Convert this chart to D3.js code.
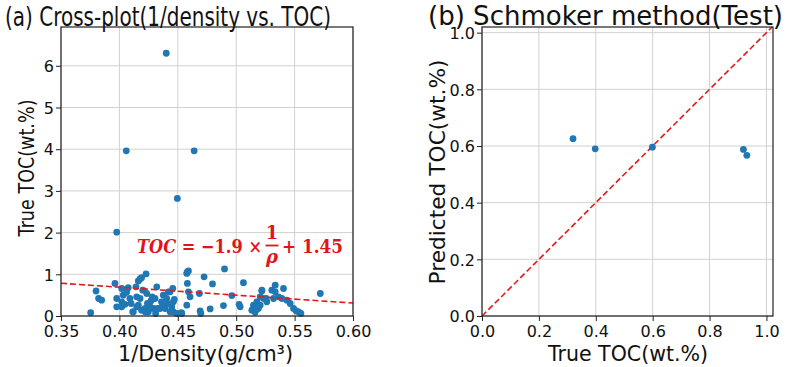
<!DOCTYPE html>
<html>
<head>
<meta charset="utf-8">
<script src="https://cdn.jsdelivr.net/npm/d3@7"></script>
<style>
  body { margin: 0; background: #fff; }
  text { font-family: "DejaVu Sans", sans-serif; fill: #111; }
  .grid line { stroke: #d0d0d0; stroke-width: 1; }
  .tick line { stroke: #222; }
</style>
</head>
<body>
<svg id="chart" width="800" height="367"></svg>
<script>
// (a) cross-plot: 1/density vs true TOC
const invDensity = [
  0.4401, 0.4059, 0.4640, 0.4496, 0.3977, 0.4228, 0.4580, 0.4591, 0.4900, 0.4725,
  0.4797, 0.5062, 0.5720, 0.3754, 0.3800, 0.3822, 0.3848, 0.3962, 0.3977, 0.3977,
  0.4020, 0.4033, 0.4020, 0.4020, 0.4062, 0.4076, 0.4090, 0.4048, 0.4119, 0.4142,
  0.4162, 0.4177, 0.4190, 0.4148, 0.4177, 0.4162, 0.4190, 0.4234, 0.4240, 0.4220,
  0.4248, 0.4270, 0.4290, 0.4320, 0.4305, 0.4348, 0.4370, 0.4405, 0.4420, 0.4376,
  0.4434, 0.4457, 0.4462, 0.4448, 0.4462, 0.4391, 0.4410, 0.4534, 0.4577, 0.4577,
  0.4582, 0.4591, 0.4605, 0.4685, 0.4691, 0.4697, 0.4777, 0.4891, 0.4963, 0.5025,
  0.5034, 0.5134, 0.5148, 0.5177, 0.5162, 0.5205, 0.5220, 0.5190, 0.5257, 0.5220,
  0.5234, 0.5205, 0.5262, 0.5305, 0.5334, 0.5334, 0.5320, 0.5362, 0.5405, 0.5391,
  0.5434, 0.5462, 0.5491, 0.5514, 0.5534, 0.5554, 0.4114, 0.4148, 0.4220, 0.4263,
  0.4325, 0.4434, 0.4491, 0.4530, 0.4280, 0.4360, 0.4200, 0.4310, 0.4470, 0.4100
];
const trueToc = [
  6.30, 3.96, 3.96, 2.82, 2.01, 1.01, 1.05, 1.08, 1.13, 0.94,
  0.77, 0.80, 0.54, 0.08, 0.60, 0.42, 0.38, 0.78, 0.42, 0.22,
  0.66, 0.50, 0.34, 0.22, 0.57, 0.68, 0.42, 0.28, 0.10, 0.70,
  0.84, 0.89, 0.92, 0.46, 0.42, 0.26, 0.14, 0.54, 0.30, 0.18,
  0.10, 0.36, 0.18, 0.70, 0.42, 0.18, 0.26, 0.42, 0.58, 0.50,
  0.58, 0.66, 0.34, 0.22, 0.10, 0.18, 0.30, 0.06, 0.26, 1.02,
  0.78, 0.58, 0.46, 0.54, 0.12, 0.06, 0.17, 0.25, 0.49, 0.28,
  0.22, 0.14, 0.26, 0.34, 0.09, 0.46, 0.62, 0.18, 0.42, 0.60,
  0.42, 0.26, 0.34, 0.62, 0.74, 0.58, 0.42, 0.46, 0.66, 0.42,
  0.38, 0.30, 0.18, 0.12, 0.10, 0.06, 0.10, 0.22, 0.10, 0.22,
  0.18, 0.10, 0.06, 0.08, 0.46, 0.34, 0.62, 0.06, 0.40, 0.30
];
const fitSlope = -1.9, fitIntercept = 1.45;
const xTicksA = [0.35, 0.40, 0.45, 0.50, 0.55, 0.60];
const yTicksA = [0, 1, 2, 3, 4, 5, 6];

// (b) Schmoker method, test set
const trueTocTest = [0.32, 0.398, 0.599, 0.919, 0.931];
const predTocTest = [0.626, 0.590, 0.596, 0.588, 0.567];
const ticksB = [0.0, 0.2, 0.4, 0.6, 0.8, 1.0];

const svg = d3.select("#chart");
const dotColor = "#1f77b4";
const eqColor = "#e0141b";
const plotTop = 27, plotBottom = 316;

// squeeze a text to a given width (the original glyphs are narrow)
var fit = function(sel, len) {
	return sel.attr("textLength", len).attr("lengthAdjust", "spacingAndGlyphs");
}

function drawFrame(g, x, y, xTicks, yTicks, xFmt, yFmt) {
	// grid
	g.append("g").attr("class", "grid")
		.selectAll("line.v").data(xTicks).enter().append("line")
		.attr("x1", d => x(d)).attr("x2", d => x(d))
		.attr("y1", y.range()[0]).attr("y2", y.range()[1]);
	g.append("g").attr("class", "grid")
		.selectAll("line.h").data(yTicks).enter().append("line")
		.attr("x1", x.range()[0]).attr("x2", x.range()[1])
		.attr("y1", d => y(d)).attr("y2", d => y(d));

	const xa = g.append("g")
		.attr("transform", "translate(0," + y.range()[0] + ")")
		.call(d3.axisBottom(x).tickValues(xTicks).tickFormat(xFmt).tickSize(5).tickSizeOuter(0));
	const ya = g.append("g")
		.attr("transform", "translate(" + x.range()[0] + ",0)")
		.call(d3.axisLeft(y).tickValues(yTicks).tickFormat(yFmt).tickSize(5).tickSizeOuter(0));
	xa.select(".domain").remove();
	ya.select(".domain").remove();
	xa.selectAll("text").style("font-size", "16px").attr("dy", null).attr("y", 21).attr("fill", "#111");
	ya.selectAll("text").style("font-size", "16px").attr("x", -7).attr("dy", "0.36em").attr("fill", "#111");
}

function drawBox(g, x, y) {
	g.append("rect")
		.attr("x", x.range()[0]).attr("y", y.range()[1])
		.attr("width", x.range()[1] - x.range()[0])
		.attr("height", y.range()[0] - y.range()[1])
		.attr("fill", "none").attr("stroke", "#222").attr("stroke-width", 1.2);
}

// ---------- panel (a)
const xa = d3.scaleLinear().domain([0.35, 0.60]).range([61, 353]);
const ya = d3.scaleLinear().domain([0, 6.93]).range([plotBottom, plotTop]);
const gA = svg.append("g");
drawFrame(gA, xa, ya, xTicksA, yTicksA, d3.format(".2f"), d3.format("d"));

const ptsA = invDensity.map((v, i) => ({x: v, y: trueToc[i]}));
gA.append("g").selectAll("circle").data(ptsA).enter().append("circle")
	.attr("cx", d => xa(d.x)).attr("cy", d => ya(d.y))
	.attr("r", 3.4).attr("fill", dotColor);

gA.append("line")
	.attr("x1", xa(0.35)).attr("y1", ya(fitSlope * 0.35 + fitIntercept))
	.attr("x2", xa(0.60)).attr("y2", ya(fitSlope * 0.60 + fitIntercept))
	.attr("stroke", "#e41a1c").attr("stroke-width", 1.6).attr("stroke-dasharray", "6,3");
drawBox(gA, xa, ya);

// equation
const eq = gA.append("g");
const eqFont = "'DejaVu Serif', serif";
fit(eq.append("text").attr("x", 137).attr("y", 253)
	.style("font-family", eqFont).style("font-size", "19px").style("font-weight", "bold")
	.style("fill", eqColor)
	.html('<tspan font-style="italic">TOC</tspan> = \u22121.9 \u00d7'), 125);
eq.append("text").attr("x", 272).attr("y", 239).attr("text-anchor", "middle")
	.style("font-family", eqFont).style("font-size", "18px").style("font-weight", "bold")
	.style("fill", eqColor).text("1");
eq.append("line").attr("x1", 265.5).attr("x2", 278.5).attr("y1", 245.5).attr("y2", 245.5)
	.attr("stroke", eqColor).attr("stroke-width", 1.8);
eq.append("text").attr("x", 272).attr("y", 263).attr("text-anchor", "middle")
	.style("font-family", eqFont).style("font-size", "18px").style("font-weight", "bold")
	.style("font-style", "italic").style("fill", eqColor).text("\u03c1");
fit(eq.append("text").attr("x", 282).attr("y", 253)
	.style("font-family", eqFont).style("font-size", "19px").style("font-weight", "bold")
	.style("fill", eqColor).text("+ 1.45"), 61);

fit(svg.append("text").attr("x", 5).attr("y", 26).style("font-size", "26px")
	.text("(a) Cross-plot(1/density vs. TOC)"), 326);
fit(svg.append("text").attr("x", 118).attr("y", 361).style("font-size", "21px")
	.html('1/Density(g/cm<tspan>\u00b3</tspan>)'), 175);
fit(svg.append("text").attr("transform", "translate(34,168) rotate(-90)").attr("text-anchor", "middle")
	.style("font-size", "21px").text("True TOC(wt.%)"), 137);

// ---------- panel (b)
const xb = d3.scaleLinear().domain([0, 1.023]).range([482, 773]);
const yb = d3.scaleLinear().domain([0, 1.02]).range([plotBottom, plotTop]);
const gB = svg.append("g");
drawFrame(gB, xb, yb, ticksB, ticksB, d3.format(".1f"), d3.format(".1f"));

gB.append("line")
	.attr("x1", xb(0)).attr("y1", yb(0))
	.attr("x2", xb(1.02)).attr("y2", yb(1.02))
	.attr("stroke", "#e41a1c").attr("stroke-width", 1.6).attr("stroke-dasharray", "6,3");

const ptsB = trueTocTest.map((v, i) => ({x: v, y: predTocTest[i]}));
gB.append("g").selectAll("circle").data(ptsB).enter().append("circle")
	.attr("cx", d => xb(d.x)).attr("cy", d => yb(d.y))
	.attr("r", 3.4).attr("fill", dotColor);
drawBox(gB, xb, yb);

fit(svg.append("text").attr("x", 428).attr("y", 25).style("font-size", "26px")
	.text("(b) Schmoker method(Test)"), 355);
fit(svg.append("text").attr("x", 548).attr("y", 361).style("font-size", "21px")
	.text("True TOC(wt.%)"), 160);
fit(svg.append("text").attr("transform", "translate(445,172) rotate(-90)").attr("text-anchor", "middle")
	.style("font-size", "21px").text("Predicted TOC(wt.%)"), 225);
</script>
</body>
</html>
